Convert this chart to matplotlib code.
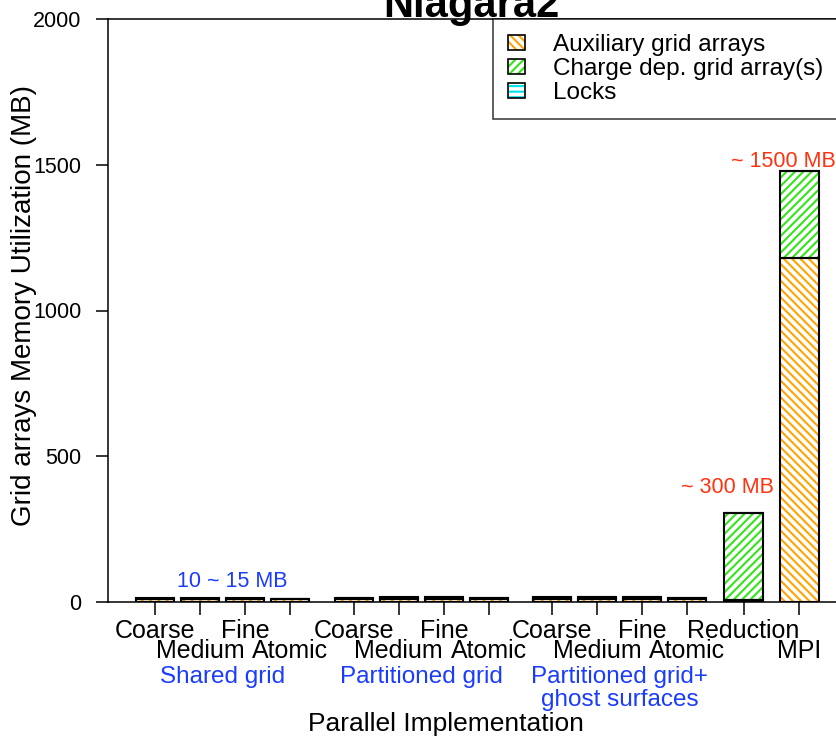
import matplotlib
matplotlib.use("Agg")
import matplotlib.pyplot as plt
from matplotlib.patches import Patch

plt.rcParams['font.family'] = ['Liberation Sans', 'DejaVu Sans']
plt.rcParams['hatch.linewidth'] = 1.5

# Memory per implementation (MB), stacked bottom -> top
variants = ["Coarse", "Medium", "Fine", "Atomic",
            "Coarse", "Medium", "Fine", "Atomic",
            "Coarse", "Medium", "Fine", "Atomic",
            "Reduction", "MPI"]
groups = [["Shared grid"], ["Partitioned grid"], ["Partitioned grid+", "ghost surfaces"]]
aux_mb = [9, 9, 9, 9, 10, 10, 11, 10, 10, 11, 11, 10, 8, 1181]
charge_mb = [3, 3, 3, 3, 4, 5, 5, 4, 5, 5, 5, 4, 298, 297]
locks_mb = [0.5, 1, 2, 0, 0.5, 1, 2, 0, 0.5, 1, 2, 0, 0, 0]

series = [
    ("Auxiliary grid arrays", aux_mb, "#ffa500", "\\\\\\\\"),
    ("Charge dep. grid array(s)", charge_mb, "#33e619", "////"),
    ("Locks", locks_mb, "#00e0e8", "---"),
]

# bar positions: three groups of four, then Reduction and MPI
xpos = []
for g in range(3):
    start = g * 4.41
    xpos += [start + i for i in range(4)]
xpos += [13.07, 14.31]

fig = plt.figure(figsize=(8.37, 7.37), dpi=100)
ax = fig.add_axes([108 / 837, 1 - 602 / 737, 745 / 837, 583 / 737])

width = 0.85
bottom = [0.0] * len(xpos)
handles = []
for name, vals, col, hatch in series:
    ax.bar(xpos, vals, width, bottom=bottom, color="white", edgecolor=col,
           hatch=hatch, linewidth=0, zorder=2)
    ax.bar(xpos, vals, width, bottom=bottom, fill=False, edgecolor="black",
           linewidth=1.5, zorder=3)
    bottom = [b + v for b, v in zip(bottom, vals)]
    handles.append((Patch(facecolor="white", edgecolor=col, hatch=hatch, linewidth=0),
                    Patch(fill=False, edgecolor="black", linewidth=1.2)))

ax.set_xlim(-1.05, 15.5)
ax.set_ylim(0, 2000)
ax.set_yticks([0, 500, 1000, 1500, 2000])
ax.set_xticks(xpos)
ax.set_xticklabels([])
ax.tick_params(axis="y", direction="out", length=9, width=1.1, pad=10, labelsize=15.5)
ax.tick_params(axis="x", direction="out", length=9.5, width=1.1)
for s in ["left", "bottom", "top"]:
    ax.spines[s].set_linewidth(1.1)
ax.spines["right"].set_visible(False)

# two staggered rows of variant names under the ticks
trans = ax.get_xaxis_transform()
for i, (x, lab) in enumerate(zip(xpos, variants)):
    row = i % 2 if i < 12 else (0 if lab == "Reduction" else 1)
    ypix = 36 if row == 0 else 56
    ax.text(x, -ypix / 583, lab, transform=trans, ha="center", va="baseline",
            fontsize=18)

for g, lines in enumerate(groups):
    xc = sum(xpos[g * 4:g * 4 + 4]) / 4
    for k, line in enumerate(lines):
        ax.text(xc, -(81 + 23 * k) / 583, line, transform=trans, ha="center",
                va="baseline", fontsize=17.5, color="#1a3cff")

# value notes
ax.text(1.7, 52, "10 ~ 15 MB", ha="center", va="baseline", fontsize=15.5, color="#1a3cff")
ax.text(12.72, 374, "~ 300 MB", ha="center", va="baseline", fontsize=15.5, color="#ff3311")
ax.text(13.96, 1493, "~ 1500 MB", ha="center", va="baseline", fontsize=15.5, color="#ff3311")

fig.text(446 / 837, 1 - 731 / 737, "Parallel Implementation", ha="center",
         va="baseline", fontsize=19)
fig.text(24 / 837, 1 - 305 / 737, "Grid arrays Memory Utilization (MB)", rotation=90,
         ha="center", va="center", fontsize=20)
fig.text(471 / 837, 1 - 17 / 737, "Niagara2", ha="center", va="baseline",
         fontsize=30, fontweight="bold")

leg = ax.legend(handles, [s[0] for s in series], loc="upper left",
                bbox_to_anchor=(493 / 837, 1 - 19 / 737), bbox_transform=fig.transFigure,
                fontsize=17.5, frameon=True, fancybox=False, borderpad=0.62,
                labelspacing=0.08, handlelength=0.7, handleheight=0.58,
                handletextpad=1.15, borderaxespad=0)
leg.get_frame().set_edgecolor("black")
leg.get_frame().set_linewidth(1.1)

fig.savefig("out.png", dpi=100)
